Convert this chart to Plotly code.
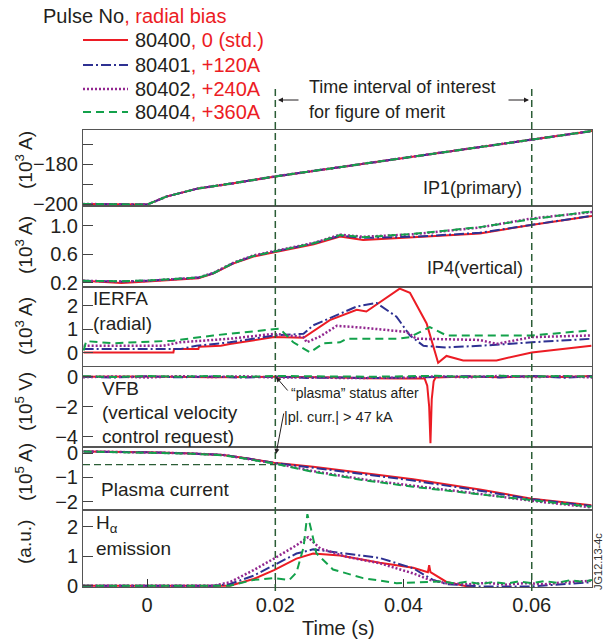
import plotly.graph_objects as go
from plotly.subplots import make_subplots

# ---------------- data ----------------
pulses = ["80400", "80401", "80402", "80404"]
biases = [", 0 (std.)", ", +120A", ", +240A", ", +360A"]

# IP1 (primary), 10^3 A  (all four pulses overlap)
ip1_t = [-0.01, -0.002, 0.0, 0.003, 0.008, 0.0135, 0.02, 0.03, 0.04, 0.05, 0.06, 0.0694]
ip1_v = [-200.0, -200.0, -200.3, -196.3, -192.2, -189.6, -186.2, -181.6, -177.0, -172.4, -167.8, -163.5]

# IP4 (vertical), 10^3 A
ip4_t = [-0.01, -0.004, 0.0, 0.004, 0.008, 0.0103, 0.0134, 0.0166, 0.0198, 0.026, 0.0301, 0.0337, 0.0415, 0.0519, 0.0599, 0.0694]
ip4_red = [0.23, 0.20, 0.22, 0.245, 0.265, 0.33, 0.47, 0.57, 0.63, 0.74, 0.85, 0.80, 0.84, 0.89, 1.01, 1.135]
ip4_blue = [0.23, 0.22, 0.23, 0.255, 0.275, 0.335, 0.475, 0.578, 0.64, 0.755, 0.86, 0.83, 0.845, 0.90, 1.01, 1.14]
ip4_purple = [0.23, 0.22, 0.23, 0.255, 0.275, 0.34, 0.48, 0.585, 0.645, 0.76, 0.875, 0.845, 0.88, 0.975, 1.10, 1.19]
ip4_green = [0.23, 0.225, 0.235, 0.255, 0.275, 0.335, 0.476, 0.578, 0.64, 0.755, 0.87, 0.84, 0.885, 0.98, 1.09, 1.20]

# IERFA (radial), 10^3 A
ierfa_red_t = [-0.0099, 0.0041, 0.0042, 0.008, 0.0081, 0.0115, 0.0129, 0.016, 0.0198, 0.0244, 0.0285, 0.0327, 0.0342, 0.0394, 0.0410, 0.0436, 0.0454, 0.0467, 0.0493, 0.0545, 0.0600, 0.0693]
ierfa_red = [0.02, 0.02, 0.16, 0.16, 0.26, 0.30, 0.38, 0.50, 0.67, 0.64, 1.39, 1.83, 1.76, 2.73, 2.55, 1.25, -0.42, -0.13, -0.32, -0.32, 0.02, 0.30]
ierfa_blue_t = [-0.0099, 0.0051, 0.0077, 0.0129, 0.0198, 0.0244, 0.0259, 0.0327, 0.0358, 0.0389, 0.0410, 0.0431, 0.0467, 0.0519, 0.0600, 0.0693]
ierfa_blue = [0.16, 0.16, 0.30, 0.45, 0.74, 0.81, 1.17, 1.97, 2.12, 1.54, 0.74, 0.30, 0.23, 0.30, 0.45, 0.60]
ierfa_purple_t = [-0.0099, 0.0025, 0.0051, 0.0129, 0.0198, 0.0244, 0.0249, 0.0270, 0.0296, 0.0337, 0.0405, 0.0420, 0.0467, 0.0519, 0.0545, 0.0600, 0.0693]
ierfa_purple = [0.30, 0.30, 0.45, 0.60, 0.81, 0.67, 0.45, 0.70, 1.15, 1.07, 0.89, 0.60, 0.58, 0.55, 0.38, 0.67, 0.74]
ierfa_green_t = [-0.0099, -0.0095, -0.0053, 0.0041, 0.0103, 0.0198, 0.0207, 0.0228, 0.0254, 0.0275, 0.0301, 0.0311, 0.0389, 0.0410, 0.0441, 0.0467, 0.0600, 0.0693]
ierfa_green = [0.10, 0.50, 0.41, 0.52, 0.74, 1.03, 1.03, 0.45, 0.02, 0.41, 0.45, 0.60, 0.60, 0.67, 1.10, 0.74, 0.74, 0.96]

# VFB (vertical velocity control request), 10^5 V
vfb_t = [-0.01, -0.005, 0.0, 0.005, 0.01, 0.015, 0.02, 0.025, 0.03, 0.035, 0.04, 0.045, 0.05, 0.055, 0.06, 0.065, 0.0694]
vfb_blue = [0.0, -0.05, 0.03, -0.04, 0.02, -0.06, 0.01, -0.08, -0.05, -0.09, -0.06, -0.02, 0.04, -0.05, 0.06, -0.07, 0.03]
vfb_purple = [-0.03, 0.02, -0.05, 0.04, -0.02, 0.03, -0.06, -0.03, -0.08, -0.05, -0.07, 0.03, -0.04, 0.05, -0.03, 0.04, -0.05]
vfb_green = [0.04, -0.02, 0.05, 0.0, 0.06, -0.01, 0.05, 0.02, 0.04, 0.0, 0.03, 0.06, -0.02, 0.07, 0.01, 0.05, 0.0]
vfb_red_t = [-0.01, 0.0, 0.01, 0.02, 0.03, 0.034, 0.04, 0.0433, 0.0437, 0.0440, 0.0442, 0.0444, 0.0447, 0.0450, 0.05, 0.055, 0.06, 0.065, 0.0694]
vfb_red = [0.0, 0.02, -0.03, 0.0, -0.05, -0.10, -0.12, -0.12, -0.6, -2.0, -4.44, -1.5, -0.3, -0.05, 0.02, -0.04, 0.03, -0.02, 0.05]

# Plasma current, 10^5 A
ipl_t = [-0.0099, -0.005, 0.0, 0.006, 0.0119, 0.0155, 0.0198, 0.0259, 0.0337, 0.0415, 0.0519, 0.0600, 0.0693]
ipl_red = [0.07, 0.06, 0.04, 0.0, -0.07, -0.21, -0.39, -0.56, -0.83, -1.08, -1.50, -1.88, -2.15]
ipl_blue = [0.07, 0.06, 0.04, 0.0, -0.07, -0.21, -0.40, -0.60, -0.88, -1.13, -1.55, -1.90, -2.18]
ipl_purple = [0.08, 0.06, 0.04, 0.0, -0.07, -0.22, -0.41, -0.74, -1.08, -1.35, -1.68, -1.97, -2.24]
ipl_green = [0.07, 0.05, 0.03, -0.01, -0.08, -0.24, -0.42, -0.77, -1.11, -1.39, -1.70, -1.97, -2.22]
ipl_threshold = -0.47

# H-alpha emission, a.u.
ha_red_t = [-0.01, 0.0103, 0.0129, 0.0166, 0.0198, 0.0233, 0.0259, 0.0301, 0.0363, 0.0415, 0.0438, 0.0440, 0.0442, 0.0467, 0.0519, 0.0600, 0.0693]
ha_red = [0.0, 0.0, 0.0, 0.23, 0.53, 0.92, 1.09, 1.02, 0.78, 0.61, 0.46, 0.70, 0.46, 0.13, -0.11, -0.13, -0.07]
ha_blue_t = [-0.01, 0.0103, 0.0129, 0.0166, 0.0198, 0.0233, 0.0259, 0.0311, 0.0363, 0.0415, 0.0446, 0.0467, 0.0519, 0.0600, 0.0693]
ha_blue = [0.0, 0.0, 0.06, 0.34, 0.70, 1.09, 1.23, 1.09, 0.94, 0.59, 0.20, 0.06, -0.02, -0.02, 0.12]
ha_purple_t = [-0.01, 0.0103, 0.0129, 0.0166, 0.0198, 0.0233, 0.0251, 0.0270, 0.0311, 0.0363, 0.0415, 0.0441, 0.0467, 0.050, 0.053, 0.056, 0.059, 0.062, 0.065, 0.0694]
ha_purple = [0.0, 0.0, 0.12, 0.53, 0.92, 1.37, 1.64, 1.26, 0.98, 0.76, 0.42, 0.20, 0.09, 0.05, 0.10, 0.04, 0.09, 0.05, 0.12, 0.17]
ha_green_t = [-0.01, 0.0103, 0.0129, 0.0166, 0.0198, 0.0222, 0.0233, 0.0244, 0.0250, 0.0257, 0.0264, 0.0290, 0.0337, 0.0389, 0.0441, 0.046, 0.048, 0.050, 0.052, 0.054, 0.056, 0.058, 0.060, 0.062, 0.064, 0.066, 0.068, 0.0694]
ha_green = [0.0, 0.0, 0.0, 0.20, 0.26, 0.20, 0.45, 1.30, 2.42, 1.80, 1.10, 0.55, 0.26, 0.09, 0.12, 0.15, 0.08, 0.14, 0.06, 0.13, 0.07, 0.15, 0.09, 0.16, 0.10, 0.19, 0.13, 0.20]

# ---------------- styling ----------------
RED, BLUE, PURPLE, GREEN = "#ec1c24", "#2e3192", "#92278f", "#13a14b"
VLINE = "#2b5d36"
TXT = "#231f20"
FONT = "Liberation Sans, Arial, sans-serif"
styles = [(RED, "solid", 2), (BLUE, "10px,3px,2px,3px", 2), (PURPLE, "2px,2px", 2.5), (GREEN, "8px,5px", 2)]

panels = [
    [(ip1_t, ip1_v), (ip1_t, ip1_v), (ip1_t, ip1_v), (ip1_t, ip1_v)],
    [(ip4_t, ip4_red), (ip4_t, ip4_blue), (ip4_t, ip4_purple), (ip4_t, ip4_green)],
    [(ierfa_red_t, ierfa_red), (ierfa_blue_t, ierfa_blue), (ierfa_purple_t, ierfa_purple), (ierfa_green_t, ierfa_green)],
    [(vfb_red_t, vfb_red), (vfb_t, vfb_blue), (vfb_t, vfb_purple), (vfb_t, vfb_green)],
    [(ipl_t, ipl_red), (ipl_t, ipl_blue), (ipl_t, ipl_purple), (ipl_t, ipl_green)],
    [(ha_red_t, ha_red), (ha_blue_t, ha_blue), (ha_purple_t, ha_purple), (ha_green_t, ha_green)],
]

fig = make_subplots(rows=6, cols=1, shared_xaxes=True, vertical_spacing=0,
                    row_heights=[76, 81, 80, 80, 63, 77])

for r, panel in enumerate(panels, start=1):
    for k, (t, v) in enumerate(panel):
        col, dash, w = styles[k]
        fig.add_trace(go.Scatter(x=t, y=v, mode="lines", showlegend=False, hoverinfo="skip",
                                 line=dict(color=col, dash=dash, width=w)), row=r, col=1)

XR = [-0.01, 0.0694]
fig.update_xaxes(range=XR, showline=True, mirror=True, linecolor="#555", linewidth=1,
                 showgrid=False, zeroline=False, ticks="", showticklabels=False)
fig.update_xaxes(row=6, col=1, ticks="inside", ticklen=8, tickcolor="#333",
                 tickvals=[0, 0.02, 0.04, 0.06], ticktext=["0", "0.02", "0.04", "0.06"],
                 showticklabels=True, tickfont=dict(size=20, color=TXT, family=FONT))

yspecs = [
    ([-201, -163], [-200, -190, -180, -170], ["−200", "", "−180", ""]),
    ([0.144, 1.275], [0.2, 0.6, 1.0], ["0.2", "0.6", "1.0"]),
    ([-0.6, 2.8], [0, 1, 2], ["0", "1", "2"]),
    ([-4.69, 0.65], [-4, -2, 0], ["−4", "−2", "0"]),
    ([-2.35, 0.26], [-2, -1, 0], ["−2", "−1", "0"]),
    ([-0.04, 2.56], [0, 1, 2], ["0", "1", "2"]),
]
for r, (rng, tv, tt) in enumerate(yspecs, start=1):
    fig.update_yaxes(row=r, col=1, range=rng, tickvals=tv, ticktext=tt, ticks="inside",
                     ticklen=10, tickcolor="#444", showline=True, mirror=True,
                     linecolor="#555", linewidth=1, showgrid=False, zeroline=False,
                     tickfont=dict(size=20, color=TXT, family=FONT))

# pixel -> paper helpers
L, R, T, B = 83, 592, 130, 587
def px(x):
    return (x - L) / (R - L)
def py(y):
    return (B - y) / (B - T)

shapes = []
for xv in (0.02, 0.06):
    shapes.append(dict(type="line", xref="x", yref="paper", x0=xv, x1=xv, y0=py(591), y1=py(88),
                       line=dict(color=VLINE, width=1.5, dash="7px,4px")))
shapes.append(dict(type="line", xref="x5", yref="y5", x0=-0.01, x1=0.02, y0=ipl_threshold, y1=ipl_threshold,
                   line=dict(color=VLINE, width=1.3, dash="7px,4px")))

annotations = []
def txt(x, y, s, size=19, xanchor="left", color=TXT, angle=0):
    annotations.append(dict(x=px(x), y=py(y), xref="paper", yref="paper", text=s, showarrow=False,
                            xanchor=xanchor, yanchor="middle", textangle=angle,
                            font=dict(size=size, color=color, family=FONT)))

# legend block
txt(41, 16, "Pulse No<span style='color:%s'>, radial bias</span>" % RED, size=20)
leg_y = [40, 65, 89, 112]
for k, yy in enumerate(leg_y):
    col, dash, w = styles[k]
    shapes.append(dict(type="line", xref="paper", yref="paper", x0=px(83), x1=px(128), y0=py(yy), y1=py(yy),
                       line=dict(color=col, width=w, dash=dash)))
    txt(133, yy, "%s<span style='color:%s'>%s</span>" % (pulses[k], RED, biases[k]), size=20)

# time interval note
txt(307, 87, "Time interval of interest", size=18)
txt(307, 112, "for figure of merit", size=18)
annotations.append(dict(x=px(278), y=py(100), xref="paper", yref="paper", ax=22, ay=0, text="",
                        showarrow=True, arrowhead=2, arrowsize=1, arrowwidth=1, arrowcolor=TXT))
annotations.append(dict(x=px(529), y=py(100), xref="paper", yref="paper", ax=-22, ay=0, text="",
                        showarrow=True, arrowhead=2, arrowsize=1, arrowwidth=1, arrowcolor=TXT))

# panel labels
txt(524, 188, "IP1(primary)", size=18, xanchor="right")
txt(525, 268, "IP4(vertical)", size=18, xanchor="right")
txt(91, 298, "IERFA")
txt(91, 323, "(radial)")
txt(100, 388, "VFB")
txt(100, 412, "(vertical velocity")
txt(100, 436, "control request)")
txt(99, 489, "Plasma current")
txt(94, 524, "H<sub>α</sub>")
txt(94, 548, "emission")

# plasma status note
txt(289, 393, "“plasma” status after", size=14)
txt(282, 417, "|pl. curr.| > 47 kA", size=14.5)
annotations.append(dict(x=px(276), y=py(377), xref="paper", yref="paper", ax=13, ay=15, text="",
                        showarrow=True, arrowhead=2, arrowsize=1, arrowwidth=1, arrowcolor=TXT))
annotations.append(dict(x=px(276), y=py(454), xref="paper", yref="paper", ax=8, ay=-42, text="",
                        showarrow=True, arrowhead=2, arrowsize=1, arrowwidth=1, arrowcolor=TXT))

# y-axis unit labels
for yy, s in [(160, "(10<sup>3</sup> A)"), (245, "(10<sup>3</sup> A)"), (326, "(10<sup>3</sup> A)"),
              (402, "(10<sup>5</sup> V)"), (472, "(10<sup>5</sup> A)"), (542, "(a.u.)")]:
    annotations.append(dict(x=px(24), y=py(yy), xref="paper", yref="paper", text=s, showarrow=False,
                            xanchor="center", yanchor="middle", textangle=-90,
                            font=dict(size=19, color=TXT, family=FONT)))

# x title and figure id
txt(338, 628, "Time (s)", size=20, xanchor="center")
annotations.append(dict(x=px(598), y=py(562), xref="paper", yref="paper", text="JG12.13-4c", showarrow=False,
                        xanchor="center", yanchor="middle", textangle=-90,
                        font=dict(size=11, color="#333", family=FONT)))

fig.update_layout(width=605, height=644, margin=dict(l=L, r=605 - R, t=T, b=644 - B),
                  paper_bgcolor="white", plot_bgcolor="white", shapes=shapes, annotations=annotations,
                  font=dict(family=FONT, color=TXT), showlegend=False, hovermode=False)

fig.write_html("out.html", config={"displayModeBar": False, "staticPlot": True},
               post_script="document.body.style.margin='0px';document.body.style.overflow='hidden';")
